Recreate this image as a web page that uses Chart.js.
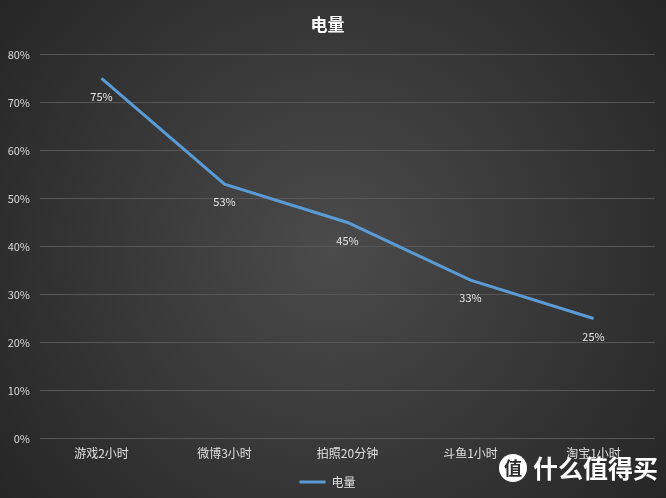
<!DOCTYPE html>
<html><head><meta charset="utf-8">
<script src="https://cdn.jsdelivr.net/npm/chart.js@4/dist/chart.umd.min.js"></script>
<style>html,body{margin:0;padding:0;background:#333;}#wrap{width:666px;height:498px;}</style>
</head><body><div id="wrap"><canvas id="c" width="666" height="498"></canvas></div>
<script>
const categories = ["游戏2小时", "微博3小时", "拍照20分钟", "斗鱼1小时", "淘宝1小时"];
const batteryValues = [75, 53, 45, 33, 25];
const seriesName = "电量";
const chartTitle = "电量";
const FONT = "'Noto Sans CJK SC', 'Noto Sans', sans-serif";

const bgPlugin = {
  id: 'bg',
  beforeDraw(chart) {
    const ctx = chart.ctx, w = chart.width, h = chart.height;
    ctx.save();
    const g = ctx.createRadialGradient(w/2, h/2, 0, w/2, h/2, Math.max(w, h) * 0.62);
    g.addColorStop(0, '#4b4b4b');
    g.addColorStop(1, '#262626');
    ctx.fillStyle = g;
    ctx.fillRect(0, 0, w, h);
    ctx.restore();
  }
};
const labelPlugin = {
  id: 'vlabels',
  afterDatasetsDraw(chart) {
    const ctx = chart.ctx;
    const meta = chart.getDatasetMeta(0);
    ctx.save();
    ctx.fillStyle = '#e6e6e6';
    ctx.font = "11px " + FONT;
    ctx.textAlign = 'center';
    ctx.textBaseline = 'middle';
    meta.data.forEach((pt, i) => {
      ctx.fillText(batteryValues[i] + '%', pt.x, pt.y + 18);
    });
    ctx.restore();
  }
};
const watermark = {
  id: 'wm',
  afterDraw(chart) {
    const ctx = chart.ctx;
    ctx.save();
    ctx.fillStyle = '#ffffff';
    ctx.beginPath();
    ctx.arc(513, 468, 14, 0, Math.PI * 2);
    ctx.fill();
    ctx.fillStyle = '#2e2e2e';
    ctx.font = "bold 18px " + FONT;
    ctx.textAlign = 'center';
    ctx.textBaseline = 'middle';
    ctx.fillText('值', 513, 468);
    ctx.fillStyle = '#ffffff';
    ctx.font = "bold 25px " + FONT;
    ctx.textAlign = 'left';
    ctx.fillText('什么值得买', 533, 468);
    ctx.restore();
  }
};

new Chart(document.getElementById('c'), {
  type: 'line',
  data: {
    labels: categories,
    datasets: [{
      label: seriesName,
      data: batteryValues,
      borderColor: '#5b9bd5',
      backgroundColor: '#5b9bd5',
      borderWidth: 3,
      pointRadius: 0,
      tension: 0,
      fill: false
    }]
  },
  options: {
    responsive: false,
    animation: false,
    layout: { padding: { left: 0, right: 11, top: 4, bottom: 0 } },
    plugins: {
      title: {
        display: true, text: chartTitle, color: '#ffffff',
        font: { family: FONT, size: 17, weight: 'bold' },
        padding: { top: 10, bottom: 20 }
      },
      legend: {
        display: true, position: 'bottom',
        labels: {
          color: '#e0e0e0', font: { family: FONT, size: 12 },
          boxWidth: 26, boxHeight: 3, padding: 7,
          generateLabels(chart) {
            return [{ text: seriesName, fillStyle: '#5b9bd5', strokeStyle: '#5b9bd5', lineWidth: 0, fontColor: '#e0e0e0', datasetIndex: 0 }];
          }
        }
      },
      tooltip: { enabled: false }
    },
    scales: {
      x: {
        offset: true,
        grid: { display: false, drawTicks: false },
        border: { display: false },
        ticks: { color: '#e0e0e0', font: { family: FONT, size: 12 }, padding: 8, maxRotation: 0 }
      },
      y: {
        min: 0, max: 80,
        afterFit(scale) { scale.width = 40; },
        grid: { color: '#575757', lineWidth: 1, drawTicks: false },
        border: { display: false },
        ticks: {
          stepSize: 10, color: '#d9d9d9', padding: 10,
          font: { family: FONT, size: 11 },
          callback: v => v + '%'
        }
      }
    }
  },
  plugins: [bgPlugin, labelPlugin, watermark]
});
</script></body></html>
